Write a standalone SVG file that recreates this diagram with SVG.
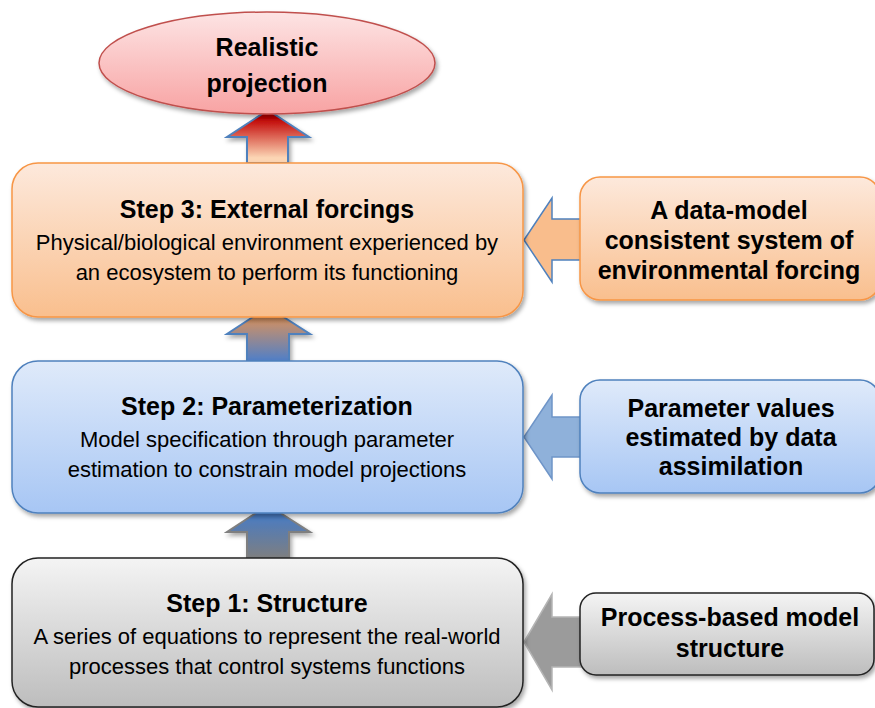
<svg xmlns="http://www.w3.org/2000/svg" width="875" height="708" viewBox="0 0 875 708">
<defs>
<linearGradient id="gRed" x1="0" y1="0" x2="0" y2="1"><stop offset="0" stop-color="#fde4e4"/><stop offset="1" stop-color="#f8a3a3"/></linearGradient>
<linearGradient id="gOr" x1="0" y1="0" x2="0" y2="1"><stop offset="0" stop-color="#fde9dc"/><stop offset="1" stop-color="#f9bf8e"/></linearGradient>
<linearGradient id="gBl" x1="0" y1="0" x2="0" y2="1"><stop offset="0" stop-color="#dfeafa"/><stop offset="1" stop-color="#a7c6f4"/></linearGradient>
<linearGradient id="gGr" x1="0" y1="0" x2="0" y2="1"><stop offset="0" stop-color="#f4f4f4"/><stop offset="1" stop-color="#bdbdbd"/></linearGradient>
<linearGradient id="aTop" x1="0" y1="0" x2="0" y2="1"><stop offset="0.15" stop-color="#c00000"/><stop offset="0.9" stop-color="#fcd5b4"/></linearGradient>
<linearGradient id="aMid" x1="0" y1="0" x2="0" y2="1"><stop offset="0" stop-color="#f79646"/><stop offset="1" stop-color="#4f7fc8"/></linearGradient>
<linearGradient id="aLow" x1="0" y1="0" x2="0" y2="1"><stop offset="0" stop-color="#3d7ad2"/><stop offset="1" stop-color="#7f7f7f"/></linearGradient>
<filter id="sh" x="-10%" y="-10%" width="120%" height="130%"><feDropShadow dx="2" dy="3" stdDeviation="2" flood-color="#000" flood-opacity="0.35"/></filter>
</defs>
<style>
.t{font-family:"Liberation Sans",Arial,sans-serif;text-anchor:middle;fill:#000}
.h{font-size:25px;font-weight:bold}
.s{font-size:22px}
.r{font-size:25px;font-weight:bold}
</style>
<g id="connectors">
<path d="M268,110 L309,137 L288,137 L288,163 L247,163 L247,137 L227,137 Z" fill="url(#aTop)" stroke="#4f81bd" stroke-width="2" filter="url(#sh)"/>
<path d="M268,307 L310,334 L289,334 L289,361 L247,361 L247,334 L227,334 Z" fill="url(#aMid)" stroke="#4f81bd" stroke-width="2" filter="url(#sh)"/>
<path d="M268,505 L310,532 L289,532 L289,559 L247,559 L247,532 L227,532 Z" fill="url(#aLow)" stroke="#7f7f7f" stroke-width="2" filter="url(#sh)"/>
<path d="M524,240 L552,198 L552,219 L581,219 L581,260 L552,260 L552,282 Z" fill="#f9bd8c" stroke="#4f81bd" stroke-width="1.5"/>
<path d="M524,437 L552,395 L552,417 L581,417 L581,457 L552,457 L552,479 Z" fill="#8fb1da" stroke="#6f95c8" stroke-width="1.5"/>
<path d="M524,642 L552,594 L552,617 L581,617 L581,667 L552,667 L552,690 Z" fill="#9b9b9b" stroke="#b5b5b5" stroke-width="1.5"/>
</g>
<g id="projection">
<ellipse cx="267" cy="63" rx="168" ry="51" fill="url(#gRed)" stroke="#c0504d" stroke-width="1.5" filter="url(#sh)"/>
<text class="t r" x="267" y="56">Realistic</text>
<text class="t r" x="267" y="92">projection</text>
</g>
<g id="step3">
<rect x="12" y="163" width="511" height="154" rx="26" fill="url(#gOr)" stroke="#f79646" stroke-width="1.5" filter="url(#sh)"/>
<text class="t h" x="267" y="218">Step 3: External forcings</text>
<text class="t s" x="267" y="250">Physical/biological environment experienced by</text>
<text class="t s" x="267" y="280">an ecosystem to perform its functioning</text>
</g>
<g id="step2">
<rect x="12" y="361" width="511" height="152" rx="26" fill="url(#gBl)" stroke="#4f81bd" stroke-width="1.5" filter="url(#sh)"/>
<text class="t h" x="267" y="415">Step 2: Parameterization</text>
<text class="t s" x="267" y="447">Model specification through parameter</text>
<text class="t s" x="267" y="477">estimation to constrain model projections</text>
</g>
<g id="step1">
<rect x="12" y="558" width="511" height="149" rx="26" fill="url(#gGr)" stroke="#222" stroke-width="1.5" filter="url(#sh)"/>
<text class="t h" x="267" y="612">Step 1: Structure</text>
<text class="t s" x="267" y="644">A series of equations to represent the real-world</text>
<text class="t s" x="267" y="674">processes that control systems functions</text>
</g>
<g id="forcing">
<rect x="580" y="177" width="300" height="123" rx="20" fill="url(#gOr)" stroke="#f79646" stroke-width="1.5" filter="url(#sh)"/>
<text class="t r" x="729" y="219">A data-model</text>
<text class="t r" x="729" y="249">consistent system of</text>
<text class="t r" x="729" y="279">environmental forcing</text>
</g>
<g id="parameters">
<rect x="580" y="380" width="300" height="113" rx="20" fill="url(#gBl)" stroke="#4f81bd" stroke-width="1.5" filter="url(#sh)"/>
<text class="t r" x="731" y="417">Parameter values</text>
<text class="t r" x="731" y="446">estimated by data</text>
<text class="t r" x="731" y="475">assimilation</text>
</g>
<g id="structure">
<rect x="580" y="593" width="294" height="82" rx="16" fill="url(#gGr)" stroke="#222" stroke-width="1.5" filter="url(#sh)"/>
<text class="t r" x="730" y="626">Process-based model</text>
<text class="t r" x="730" y="657">structure</text>
</g>
</svg>
